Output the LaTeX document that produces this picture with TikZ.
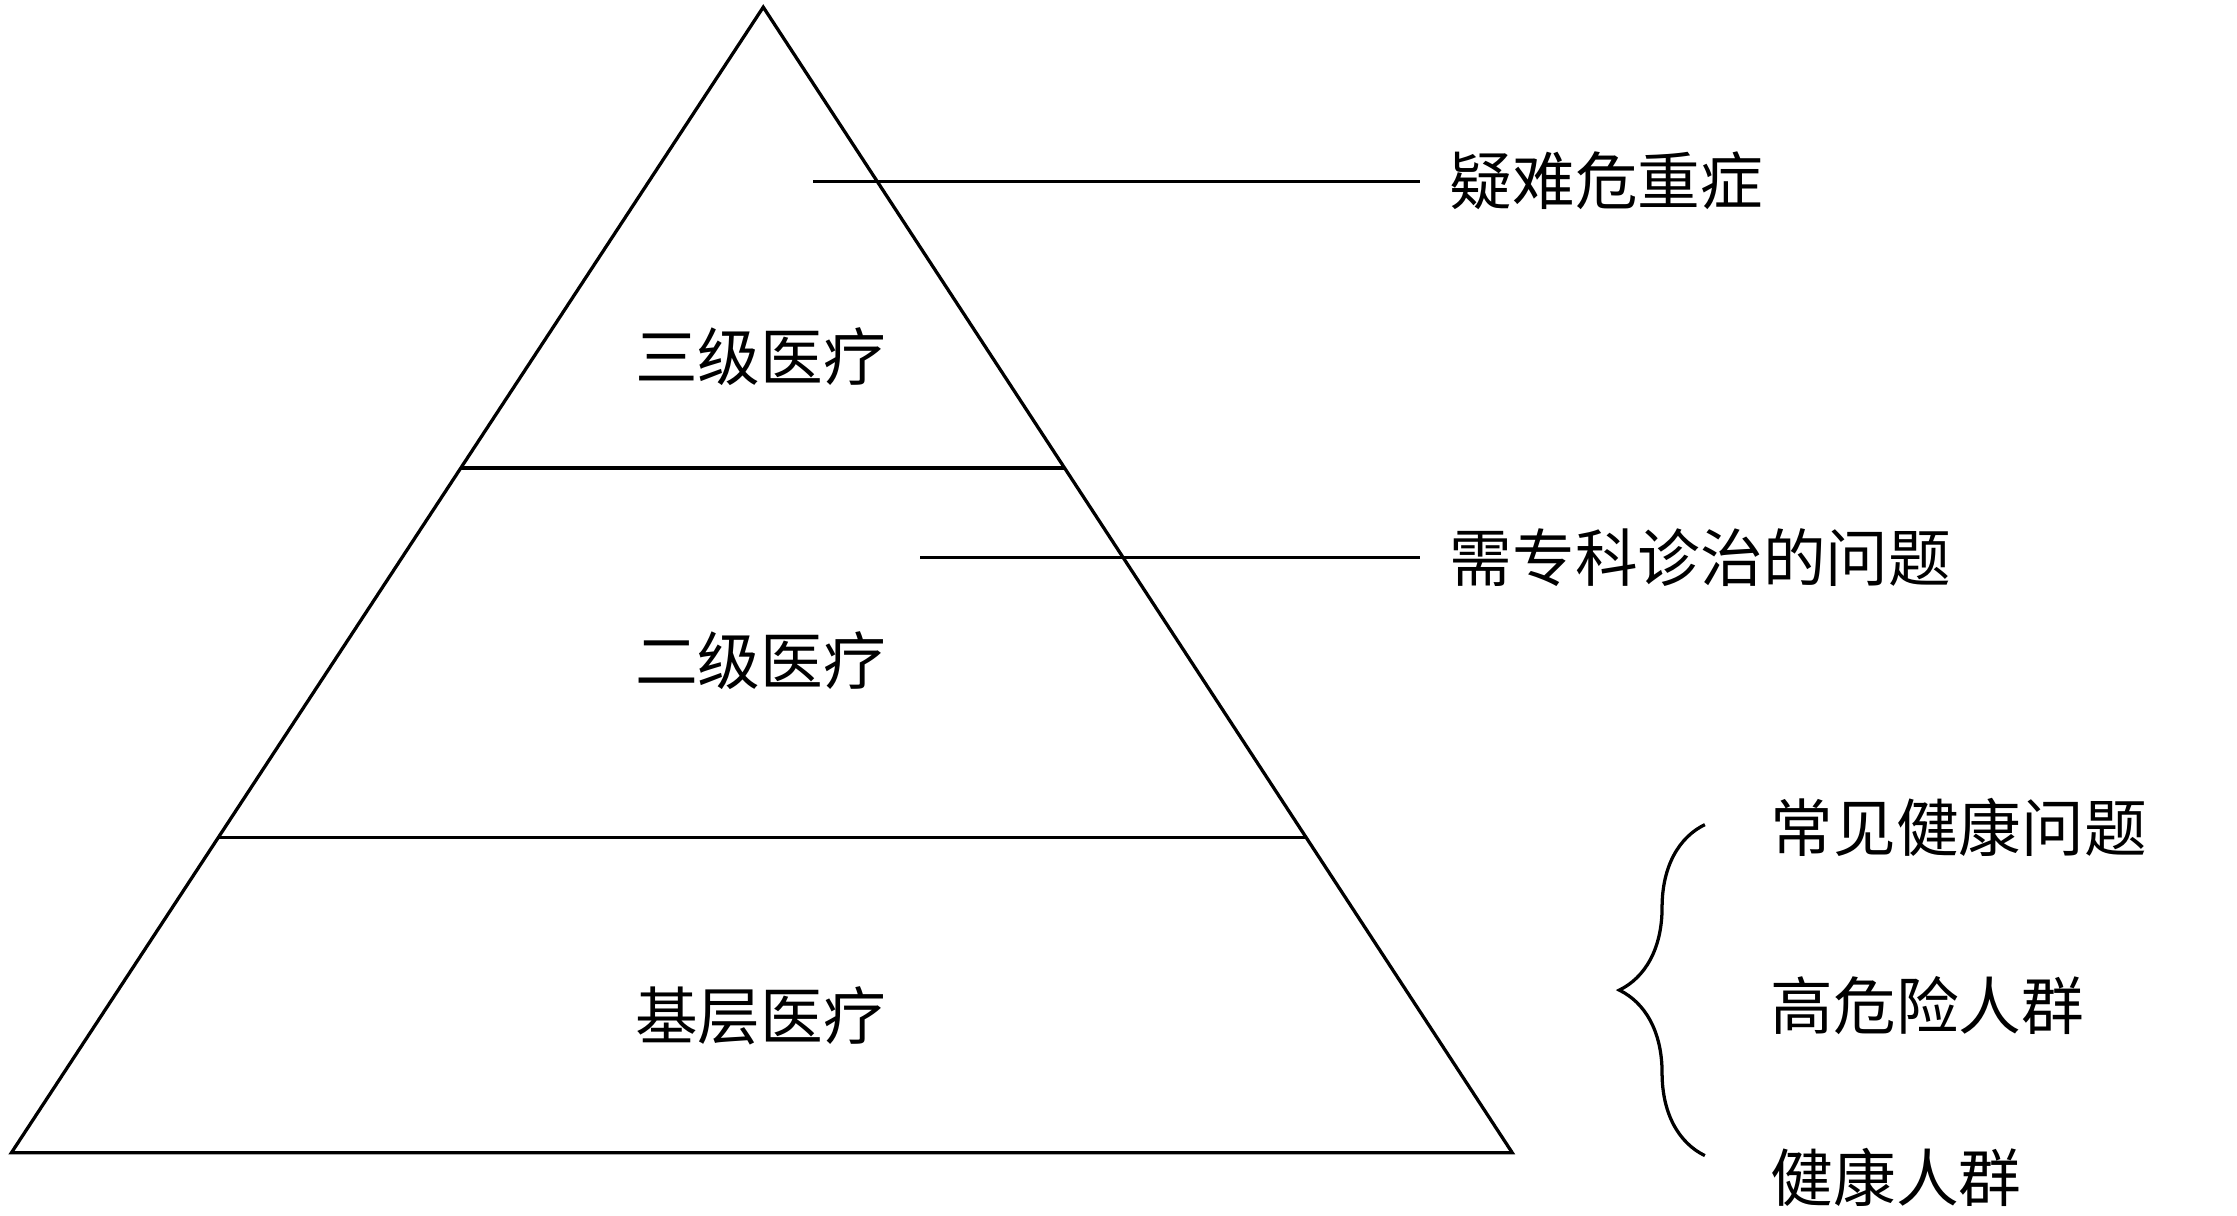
\documentclass[tikz,border=0pt]{standalone}
\usepackage{fontspec}
\setmainfont{Noto Sans CJK SC}
\usetikzlibrary{decorations.pathreplacing}

\begin{document}
\begin{tikzpicture}[x=0.02cm,y=-0.02cm,line width=1.3pt,
    lbl/.style={font=\fontsize{25}{30}\selectfont,inner sep=0pt},
    side/.style={lbl,anchor=west}]

    \useasboundingbox (0,0) rectangle (1568,852);

    % pyramid
    \coordinate (top) at (535,5);
    \coordinate (bl) at (8,808);
    \coordinate (br) at (1060,808);
    \draw (top) -- (bl) -- (br) -- cycle;

    % layers
    \coordinate (l1a) at (323,328);
    \coordinate (l1b) at (746,328);
    \coordinate (l2a) at (153,587);
    \coordinate (l2b) at (916,587);
    \draw (l1a) -- (l1b);
    \draw (l2a) -- (l2b);

    % level names
    \node[lbl] (tier3) at (533,250) {三级医疗};
    \node[lbl] (tier2) at (533,463) {二级医疗};
    \node[lbl] (tier1) at (533,712) {基层医疗};

    % leaders
    \coordinate (p3) at (570,127);
    \coordinate (p2) at (645,391);
    \node[side] (hard) at (1015,127) {疑难危重症};
    \node[side] (spec) at (1015,391) {需专科诊治的问题};
    \draw (p3) -- (hard.west -| 995,0);
    \draw (p2) -- (spec.west -| 995,0);

    % base groups
    \node[side] (common) at (1240,580) {常见健康问题};
    \node[side] (risk) at (1240,705) {高危险人群};
    \node[side] (healthy) at (1240,825) {健康人群};
    \coordinate (bb) at (1195,810);
    \coordinate (bt) at (1195,578);
    \draw[decorate,decoration={brace,amplitude=1.2cm}] (bb) -- (bt);

\end{tikzpicture}
\end{document}
